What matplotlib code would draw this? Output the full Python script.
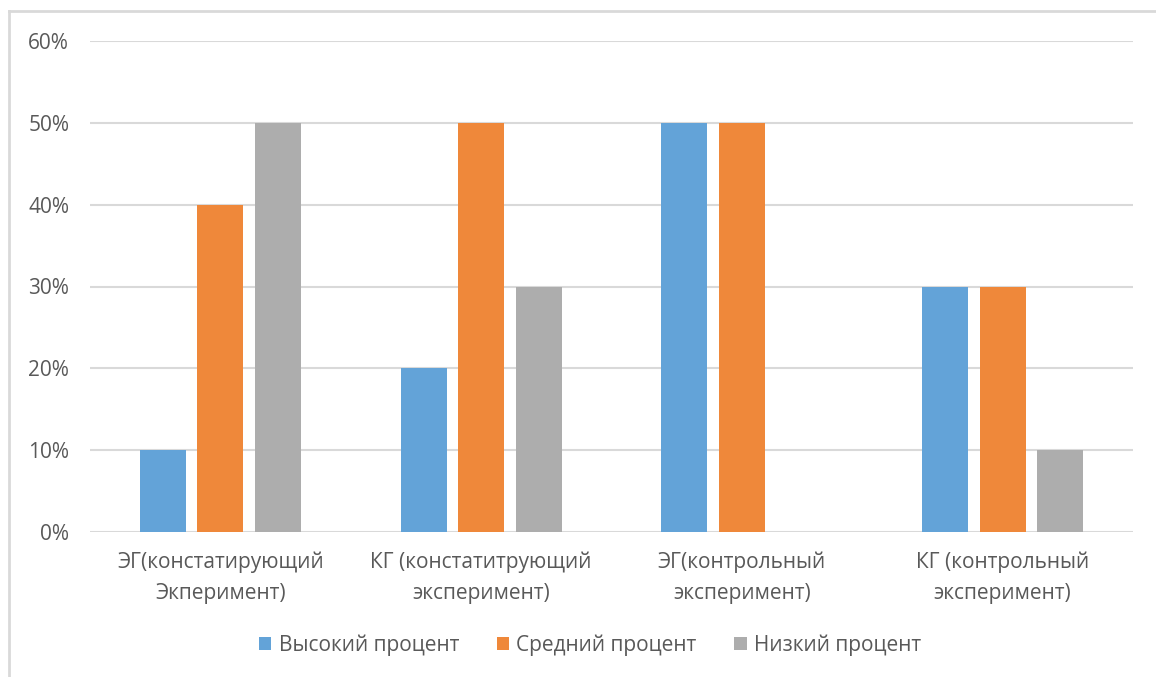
import matplotlib
matplotlib.use("Agg")
import matplotlib.pyplot as plt
from matplotlib.patches import Patch
from matplotlib.lines import Line2D
import numpy as np

categories = ["ЭГ(констатирующий\nЭкперимент)", "КГ (констатитрующий\nэксперимент)",
              "ЭГ(контрольный\nэксперимент)", "КГ (контрольный\nэксперимент)"]
series_names = ["Высокий процент", "Средний процент", "Низкий процент"]
high = [0.10, 0.20, 0.50, 0.30]
mid = [0.40, 0.50, 0.50, 0.30]
low = [0.50, 0.30, 0.0, 0.10]
yticks = [0, 0.1, 0.2, 0.3, 0.4, 0.5, 0.6]
ytick_labels = ["0%", "10%", "20%", "30%", "40%", "50%", "60%"]

colors = ["#63A3D8", "#EF883A", "#ADADAD"]
text_color = "#595959"
grid_color = "#D9D9D9"

plt.rcParams['font.family'] = ['Open Sans', 'DejaVu Sans']

fig = plt.figure(figsize=(11.56, 6.77), dpi=100)
ax = fig.add_axes([90/1156, 1-532/677, (1133-90)/1156, (532-41)/677])

x = np.arange(len(categories))
width = 0.176
offset = 0.2205
for i, (vals, c) in enumerate(zip([high, mid, low], colors)):
    ax.bar(x + (i-1)*offset, vals, width, color=c, zorder=3)

ax.set_xlim(-0.5, 3.5)
ax.set_ylim(0, 0.6)
ax.set_yticks(yticks)
ax.set_yticklabels(ytick_labels, fontsize=15, color=text_color)
ax.set_xticks(x)
ax.set_xticklabels(categories, fontsize=15, color=text_color, linespacing=1.6)
ax.tick_params(axis='both', length=0)
ax.tick_params(axis='y', pad=15)
ax.tick_params(axis='x', pad=14)
for s in ax.spines.values():
    s.set_visible(False)
ax.grid(axis='y', color=grid_color, linewidth=1.5, zorder=0)
ax.set_axisbelow(True)

# outer frame (top and left)
fig.add_artist(Line2D([9/1156, 9/1156], [0, 1-11/677], transform=fig.transFigure, color=grid_color, linewidth=2))
fig.add_artist(Line2D([9/1156, 1], [1-11/677, 1-11/677], transform=fig.transFigure, color=grid_color, linewidth=2))

handles = [Patch(facecolor=c, edgecolor='none') for c in colors]
leg = fig.legend(handles, series_names, loc='center', bbox_to_anchor=(590/1156, 1-645/677),
                 ncol=3, frameon=False, fontsize=15, handlelength=0.6, handleheight=0.6,
                 handletextpad=0.35, columnspacing=1.8)
for t in leg.get_texts():
    t.set_color(text_color)

fig.savefig("out.png", dpi=100)
